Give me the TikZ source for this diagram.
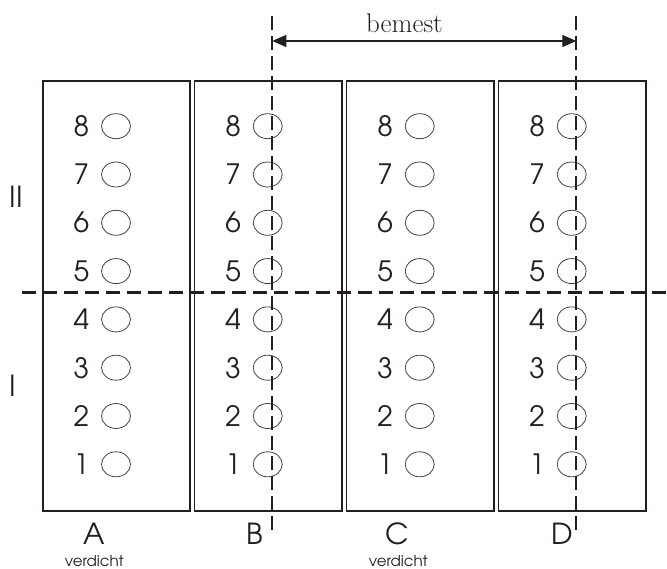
\documentclass[tikz,border=0pt]{standalone}
\usepackage{fontspec}
\newfontfamily\gothic{TeX Gyre Adventor}
\usetikzlibrary{arrows.meta,shapes.geometric}
\definecolor{ink}{HTML}{231F20}
\begin{document}
\begin{tikzpicture}[x=1pt,y=-1pt,
  col/.style={draw=ink, line width=1.6pt, minimum width=147.3pt, minimum height=430pt,
              inner sep=0pt, anchor=north west},
  hole/.style={ellipse, draw=ink!85, line width=0.8pt, minimum width=29pt,
               minimum height=25pt, inner sep=0pt},
  num/.style={font=\gothic\fontsize{28}{30}\selectfont, text=ink, inner sep=0pt},
  lbl/.style={font=\gothic\fontsize{29}{31}\selectfont, text=ink, inner sep=0pt},
  small/.style={font=\gothic\fontsize{15}{17}\selectfont, text=ink, inner sep=0pt, anchor=base},
  axis/.style={line width=1.7pt, dash pattern=on 14pt off 6pt},
  split/.style={line width=2.6pt, dash pattern=on 14pt off 7pt},
  dim/.style={line width=1.3pt, {Triangle[length=14pt,width=12pt]}-{Triangle[length=14pt,width=12pt]}}
]
\useasboundingbox (0,0) rectangle (667,569);

% four columns with eight numbered holes each
\foreach \c/\x in {A/42,B/193.7,C/345.7,D/497.7}{
  \node[col] (col-\c) at (\x,80) {};
  \foreach \i in {1,...,8}{
    \pgfmathsetmacro\yy{464.3-(\i-1)*48.3}
    \node[num]  (n-\c-\i) at (\x+39.5,\yy) {\i};
    \node[hole] (h-\c-\i) at (\x+74,\yy) {};
  }
}

% column letters and notes
\node[lbl] (lA) at (94,534) {A};
\node[lbl] (lB) at (255,534) {B};
\node[lbl] (lC) at (397.5,534) {C};
\node[lbl] (lD) at (562.5,534) {D};
\node[small] (vA) at (94.3,566.5) {verdicht};
\node[small] (vC) at (398.3,566.5) {verdicht};

% layer labels
\node[lbl] (lII) at (16.5,196.7) {II};
\node[lbl] (lI)  at (12.7,386) {I};

% horizontal split between layers
\coordinate (hL) at (22,292.7);
\coordinate (hR) at (667,292.7);
\draw[split, ink] (hL) -- (hR);

% vertical reference lines
\coordinate (vBt) at (272.3,16);
\coordinate (vBb) at (272.3,531);
\coordinate (vDt) at (576.3,16);
\coordinate (vDb) at (576.3,531);
\draw[axis, ink] (vBt) -- (vBb);
\draw[axis, ink] (vDt) -- (vDb);

% dimension arrow
\coordinate (aL) at (272.3,41);
\coordinate (aR) at (576.3,41);
\draw[dim, ink] (aL) -- (aR);
\node[font=\fontsize{27}{29}\selectfont, text=ink, inner sep=0pt, anchor=base] (bem) at (404.5,33) {bemest};
\end{tikzpicture}
\end{document}
